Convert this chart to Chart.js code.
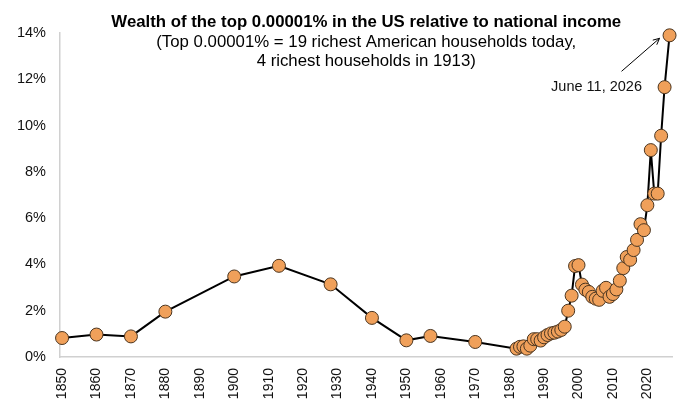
<!DOCTYPE html>
<html>
<head>
<meta charset="utf-8">
<script src="https://cdn.jsdelivr.net/npm/chart.js@4"></script>
<style>
  html, body { margin: 0; padding: 0; background: #fff; }
  #wrap { width: 680px; height: 416px; }
</style>
</head>
<body>
<div id="wrap"><canvas id="c" width="680" height="416"></canvas></div>
<script>
const years = [1850, 1860, 1870, 1880, 1900, 1913, 1928, 1940, 1950, 1957, 1970,
  1982, 1983, 1984, 1985, 1986, 1987, 1988, 1989, 1990, 1991, 1992, 1993, 1994, 1995,
  1996, 1997, 1998, 1999, 2000, 2001, 2002, 2003, 2004, 2005, 2006, 2007, 2008, 2009,
  2010, 2011, 2012, 2013, 2014, 2015, 2016, 2017, 2018, 2019, 2020, 2021, 2022, 2023,
  2024, 2025, 2026.44];
const wealthShare = [0.82, 0.97, 0.89, 1.96, 3.48, 3.94, 3.14, 1.69, 0.72, 0.91, 0.65,
  0.36, 0.44, 0.46, 0.36, 0.49, 0.77, 0.77, 0.71, 0.85, 0.95, 1.02, 1.05, 1.1, 1.17,
  1.31, 2.0, 2.65, 3.93, 3.97, 3.13, 2.91, 2.81, 2.6, 2.52, 2.47, 2.86, 2.99, 2.6,
  2.72, 2.92, 3.3, 3.84, 4.32, 4.2, 4.62, 5.06, 5.74, 5.48, 6.56, 8.94, 7.06, 7.06,
  9.56, 11.66, 13.9];
const xTickYears = [1850, 1860, 1870, 1880, 1890, 1900, 1910, 1920, 1930, 1940, 1950,
  1960, 1970, 1980, 1990, 2000, 2010, 2020];
const yTickValues = [0, 2, 4, 6, 8, 10, 12, 14];
const titleText = "Wealth of the top 0.00001% in the US relative to national income";
const subtitleLines = ["(Top 0.00001% = 19 richest American households today,",
  "4 richest households in 1913)"];
const annotationText = "June 11, 2026";

const FONT = "'Liberation Sans', Arial, Helvetica, sans-serif";

const overlay = {
  id: 'overlay',
  afterDraw(chart) {
    const ctx = chart.ctx;
    const ca = chart.chartArea;
    const cx = (ca.left + ca.right) / 2;
    ctx.save();
    ctx.fillStyle = '#000';
    ctx.textAlign = 'center';
    ctx.textBaseline = 'middle';
    ctx.font = "bold 16.8px " + FONT;
    ctx.fillText(titleText, cx, 22);
    ctx.font = "16.8px " + FONT;
    subtitleLines.forEach((l, i) => ctx.fillText(l, cx, 42.5 + i * 19));

    // annotation anchored to last data point
    const meta = chart.getDatasetMeta(0);
    const last = meta.data[meta.data.length - 1];
    const tipX = last.x - 10, tipY = last.y + 3;
    const startX = tipX - 38, startY = tipY + 33;
    ctx.strokeStyle = '#000';
    ctx.lineWidth = 1;
    ctx.beginPath();
    ctx.moveTo(startX, startY);
    ctx.lineTo(tipX, tipY);
    ctx.stroke();
    const ang = Math.atan2(tipY - startY, tipX - startX);
    const ah = 7;
    ctx.beginPath();
    ctx.moveTo(tipX - ah * Math.cos(ang - 0.45), tipY - ah * Math.sin(ang - 0.45));
    ctx.lineTo(tipX, tipY);
    ctx.lineTo(tipX - ah * Math.cos(ang + 0.45), tipY - ah * Math.sin(ang + 0.45));
    ctx.stroke();
    ctx.font = "14.5px " + FONT;
    ctx.fillStyle = '#111';
    ctx.fillText(annotationText, startX - 25, startY + 16);
    ctx.restore();
  }
};

new Chart(document.getElementById('c'), {
  type: 'line',
  data: {
    datasets: [{
      data: years.map((y, i) => ({ x: y, y: wealthShare[i] })),
      borderColor: '#000',
      borderWidth: 2,
      pointBackgroundColor: '#F0A05A',
      pointBorderColor: '#4a3520',
      pointBorderWidth: 1,
      pointRadius: 6.5,
      tension: 0,
      clip: false
    }]
  },
  options: {
    responsive: false,
    animation: false,
    devicePixelRatio: 1,
    layout: { padding: { top: 33, right: 5, left: 0, bottom: 0 } },
    plugins: { legend: { display: false }, tooltip: { enabled: false }, title: { display: false } },
    scales: {
      x: {
        type: 'linear',
        min: 1849.4,
        max: 2027.3,
        afterBuildTicks(scale) { scale.ticks = xTickYears.map(v => ({ value: v })); },
        afterFit(scale) { scale.height = 59; },
        grid: { display: false, drawTicks: false },
        border: { display: true, color: '#d0d0d0', width: 1.5 },
        ticks: {
          autoSkip: false,
          maxRotation: 90,
          minRotation: 90,
          padding: 11,
          color: '#111',
          font: { family: FONT, size: 14 },
          callback: v => String(v)
        }
      },
      y: {
        min: 0,
        max: 14,
        afterBuildTicks(scale) { scale.ticks = yTickValues.map(v => ({ value: v })); },
        afterFit(scale) { scale.width = 60; },
        grid: { display: false, drawTicks: false },
        border: { display: true, color: '#d0d0d0', width: 1.5 },
        ticks: {
          padding: 14,
          color: '#111',
          font: { family: FONT, size: 14.5 },
          callback: v => v + '%'
        }
      }
    }
  },
  plugins: [overlay]
});
</script>
</body>
</html>
